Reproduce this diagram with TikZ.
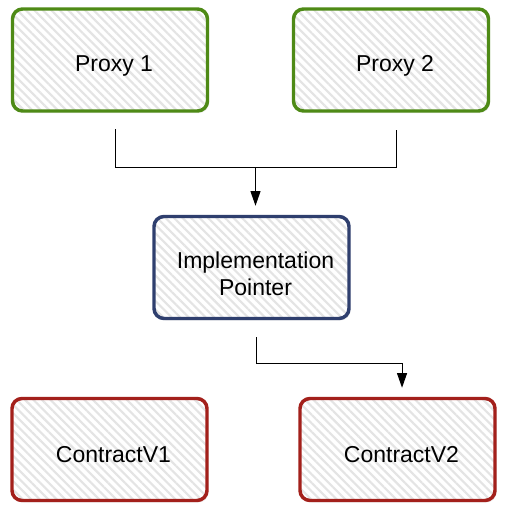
\documentclass[tikz,border=0pt]{standalone}
\usepackage{fontspec}
\setmainfont{Liberation Sans}
\usetikzlibrary{arrows.meta,patterns.meta,shadows,calc}
\definecolor{proxygreen}{HTML}{4E8A16}
\definecolor{implblue}{HTML}{2F3F6E}
\definecolor{contractred}{HTML}{A3201B}
\definecolor{hatchgray}{HTML}{E4E4E4}

\begin{document}
\begin{tikzpicture}[x=0.75pt,y=-0.75pt,
  box/.style={rounded corners=7.5pt, line width=2.6pt,
    minimum width=146.25pt, minimum height=76.5pt,
    drop shadow={opacity=0.12,shadow xshift=1.2pt,shadow yshift=-1.5pt},
    preaction={fill=white},
    pattern={Lines[angle=-45,distance=4.5pt,line width=1.6pt]},
    pattern color=hatchgray},
  boxtext/.style={align=center, font=\fontsize{17.25}{20}\selectfont},
  conn/.style={line width=0.75pt, black},
  tip/.style={-{Triangle[length=11pt,width=7.5pt]}, shorten >=6.75pt}]

\useasboundingbox (0,0) rectangle (516,519);

% top row
\node[box, draw=proxygreen] (proxy1) at (110,60) {};
\node[box, draw=proxygreen] (proxy2) at (391,60) {};

% middle
\node[box, draw=implblue] (impl) at (251.5,267.5) {};

% bottom row
\node[box, draw=contractred] (cv1) at (109.5,449.5) {};
\node[box, draw=contractred] (cv2) at (397.5,449.5) {};

% texts, a little right and low of the box centres
\node[boxtext] (proxy1text) at ([xshift=3pt,yshift=-4.5pt]proxy1.center) {Proxy 1};
\node[boxtext] (proxy2text) at ([xshift=3pt,yshift=-4.5pt]proxy2.center) {Proxy 2};
\node[boxtext] (impltext) at ([xshift=3pt,yshift=-4.5pt]impl.center) {Implementation\\Pointer};
\node[boxtext] (cv1text) at ([xshift=3pt,yshift=-3.5pt]cv1.center) {ContractV1};
\node[boxtext] (cv2text) at ([xshift=3pt,yshift=-3.5pt]cv2.center) {ContractV2};

\coordinate (p1) at ([xshift=3.75pt,yshift=-13pt]proxy1.south);
\coordinate (p2) at ([xshift=3.75pt,yshift=-13pt]proxy2.south);
\coordinate (join) at ($(p1)!0.5!(p2)+(0,38)$);
\coordinate (i1) at ([xshift=3.4pt,yshift=-12.75pt]impl.south);
\coordinate (c2) at ([xshift=3.4pt]cv2.north);

\draw[conn] (p1) |- (join) -| (p2);
\draw[conn,tip] (join) -- (join |- impl.north);
\draw[conn,tip] (i1) -- ++(0,26) -| (c2);
\end{tikzpicture}
\end{document}
